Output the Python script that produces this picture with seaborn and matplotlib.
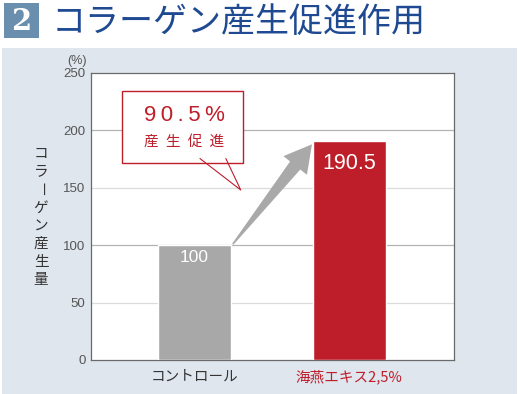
import matplotlib
matplotlib.use("Agg")
import matplotlib.pyplot as plt
import seaborn as sns
import pandas as pd
import numpy as np
from matplotlib.patches import Rectangle, Polygon

categories = ["コントロール", "海燕エキス2,5%"]
values = [100, 190.5]
value_labels = ["100", "190.5"]
yticks = [0, 50, 100, 150, 200, 250]
title = "コラーゲン産生促進作用"
ylabel = "コラーゲン産生量"
callout_top = "90.5%"
callout_bottom = "産生促進"

sns.set_theme(style="white")
plt.rcParams['font.family'] = ['Noto Sans CJK JP', 'DejaVu Sans']

RED = "#be1e2a"
GREY = "#a8a8a8"
PANEL = "#dfe6ee"
BAR_W = 0.47

fig = plt.figure(figsize=(5.2, 3.94), dpi=100)
fig.patch.set_facecolor("white")
# background panel
fig.patches.append(Rectangle((2/520, 0), 515/520, (394-48)/394, transform=fig.transFigure,
                             facecolor=PANEL, edgecolor="none", zorder=-10))
# title badge
fig.patches.append(Rectangle((4/520, (394-38)/394), 35/520, 35/394, transform=fig.transFigure,
                             facecolor="#6a8eae", edgecolor="none", zorder=-5))
fig.text(21.5/520, (394-21)/394, "2", color="white", fontsize=21, fontweight="bold",
         ha="center", va="center", family=["DejaVu Serif"])
fig.text(52/520, (394-22)/394, title, color="#1f4a92", fontsize=24.5,
         ha="left", va="center")

ax = fig.add_axes([91/520, 34/394, 363/520, 287/394])
ax.set_zorder(1)
ax.set_facecolor("white")
df = pd.DataFrame({"cat": categories, "val": values})
sns.barplot(data=df, x="cat", y="val", hue="cat", palette=[GREY, RED], width=BAR_W,
            legend=False, ax=ax, zorder=3, saturation=1)
ax.set_xlim(-0.667, 1.675)
ax.set_ylim(0, 250)
ax.set_yticks(yticks)
ax.set_yticklabels([str(t) for t in yticks], fontsize=9.5, color="#555555",
                   family=["Liberation Sans", "DejaVu Sans"])
for t in yticks[1:-1]:
    ax.axhline(t, color="#b4b4b4" if t % 100 == 0 else "#dcdcdc", lw=0.9, zorder=1)
ax.tick_params(axis="both", length=0, pad=4)
ax.tick_params(axis="x", pad=7)
ax.set_xlabel("")
ax.set_ylabel("")
ax.set_xticks([0, 1])
ax.set_xticklabels(categories, fontsize=10.5)
ax.get_xticklabels()[0].set_color("#333333")
ax.get_xticklabels()[1].set_color(RED)
for s in ax.spines.values():
    s.set_color("#6a6a6a")
    s.set_linewidth(0.9)

# value labels
ax.text(0, 89, value_labels[0], color="white", fontsize=12.5, ha="center", va="center",
        family=["Liberation Sans", "DejaVu Sans"], zorder=5)
ax.text(1, 171, value_labels[1], color="white", fontsize=15.5, ha="center", va="center",
        family=["Liberation Sans", "DejaVu Sans"], zorder=5)

# tapered arrow from top of first bar to top of second bar (built in display space)
p0 = ax.transData.transform((0 + BAR_W / 2, values[0]))
p1 = ax.transData.transform((1 - BAR_W / 2, values[1]))
p0 = p0 + np.array([2.0, 1.0])
p1 = p1 + np.array([-1.0, -3.0])
u = (p1 - p0) / np.linalg.norm(p1 - p0)
n = np.array([-u[1], u[0]])
head_len, head_hw, neck_hw, tail_hw = 27.0, 15.0, 6.5, 0.8
base = p1 - u * head_len
pts = [p0 + n * tail_hw, base + n * neck_hw, base + n * head_hw, p1,
       base - n * head_hw, base - n * neck_hw, p0 - n * tail_hw]
ax.add_patch(Polygon(pts, closed=True, transform=None, facecolor="#a9a9a9",
                     edgecolor="none", zorder=4))

# callout box
ax.add_patch(Rectangle((-0.467, 171.6), 0.78, 62.4, facecolor="white", edgecolor=RED,
                       lw=1.0, zorder=6))
ax.plot([0.036, 0.299, 0.203], [175.5, 148.1, 175.5], color=RED, lw=0.8, zorder=7)
ax.text(-0.064, 213.4, "\u2009".join(callout_top), color=RED, fontsize=16, ha="center",
        va="center", family=["Liberation Sans", "DejaVu Sans"], zorder=8)
ax.text(-0.064, 190.3, "\u2002".join(callout_bottom), color=RED, fontsize=10.5,
        ha="center", va="center", zorder=8, family=['Noto Sans CJK JP', 'DejaVu Sans'])

# (%) and vertical y label, one character per line; long vowel mark turned upright
fig.text(77/520, (394-61)/394, "(%)", fontsize=9, color="#555555", ha="center", va="center",
         family=["Liberation Sans", "DejaVu Sans"])
y_first, step = 153.5, 18.1
for i, ch in enumerate(ylabel):
    fig.text(41/520, (394 - (y_first + i * step))/394, ch, fontsize=10.5, color="#333333",
             ha="center", va="center", rotation=-90 if ch == "ー" else 0)

fig.savefig("out.png", dpi=100, facecolor=fig.get_facecolor())
